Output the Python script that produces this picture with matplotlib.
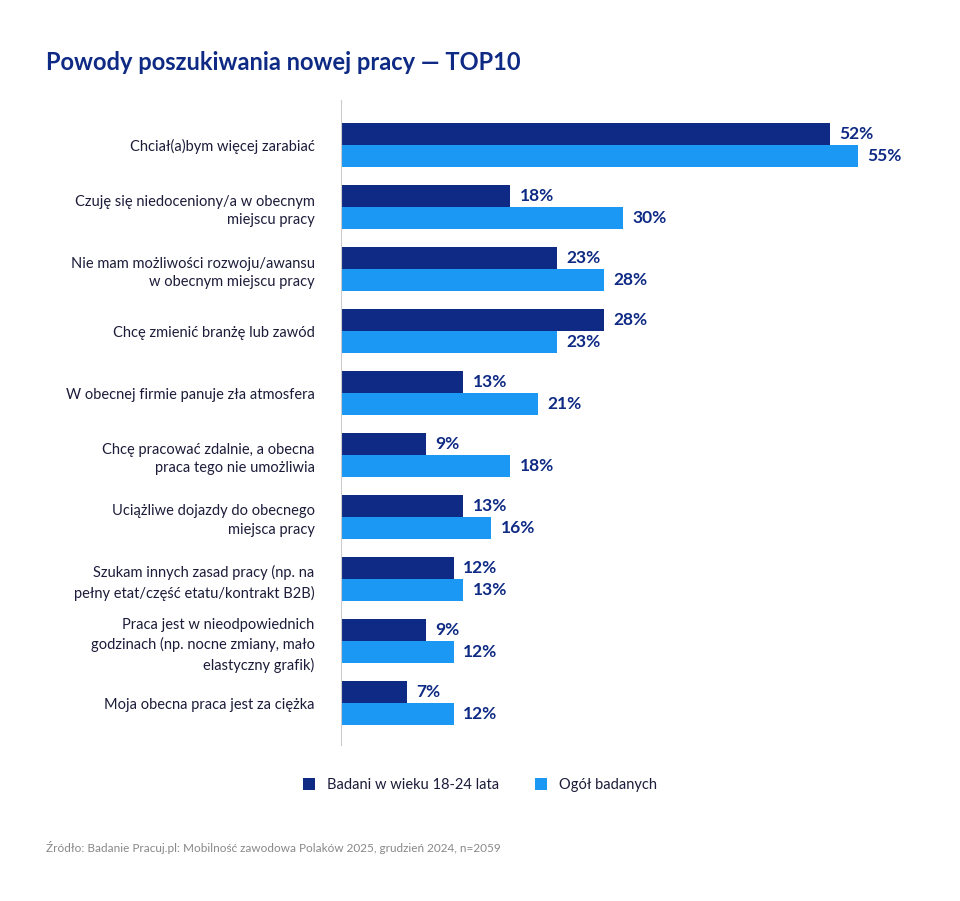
import matplotlib.pyplot as plt
import numpy as np

plt.rcParams['font.family'] = ['Lato', 'DejaVu Sans']

labels = [
    'Chciał(a)bym więcej zarabiać',
    'Czuję się niedoceniony/a w obecnym\nmiejscu pracy',
    'Nie mam możliwości rozwoju/awansu\nw obecnym miejscu pracy',
    'Chcę zmienić branżę lub zawód',
    'W obecnej firmie panuje zła atmosfera',
    'Chcę pracować zdalnie, a obecna\npraca tego nie umożliwia',
    'Uciążliwe dojazdy do obecnego\nmiejsca pracy',
    'Szukam innych zasad pracy (np. na\npełny etat/część etatu/kontrakt B2B)',
    'Praca jest w nieodpowiednich\ngodzinach (np. nocne zmiany, mało\nelastyczny grafik)',
    'Moja obecna praca jest za ciężka',
]
young = [52, 18, 23, 28, 13, 9, 13, 12, 9, 7]
total = [55, 30, 28, 23, 21, 18, 16, 13, 12, 12]

navy = '#0e2a84'
blue = '#1a98f4'

fig = plt.figure(figsize=(9.6, 9.01), dpi=100)
ax = fig.add_axes([341/960, 1-745/901, 579/960, 645/901])
y = np.arange(len(labels))
h = 22/62
ax.barh(y - h/2, young, height=h, color=navy, label='Badani w wieku 18-24 lata')
ax.barh(y + h/2, total, height=h, color=blue, label='Ogół badanych')
for i in range(len(labels)):
    ax.text(young[i] + 1.0, y[i] - h/2, f'{young[i]}%', va='center', ha='left',
            fontsize=12.5, fontweight='bold', color=navy)
    ax.text(total[i] + 1.0, y[i] + h/2, f'{total[i]}%', va='center', ha='left',
            fontsize=12.5, fontweight='bold', color=navy)
ax.set_xlim(0, 579/9.4)
ax.set_ylim(9 + 42/62, -45/62)
ax.set_yticks(y)
ax.set_yticklabels(labels, fontsize=10.5, color='#1c1c3a', linespacing=1.45)
ax.tick_params(axis='y', length=0, pad=19)
ax.set_xticks([])
for s in ['top', 'right', 'bottom']:
    ax.spines[s].set_visible(False)
ax.spines['left'].set_color('#cccccc')

fig.text(46/960, 1-62/901, 'Powody poszukiwania nowej pracy — TOP10', fontsize=17,
         fontweight='bold', color=navy, va='center')
fig.legend(loc='center', bbox_to_anchor=(480/960, 1-785/901), ncol=2, frameon=False,
           fontsize=10.5, handlelength=0.8, handleheight=0.8, columnspacing=2.5,
           labelcolor='#1c1c3a')
fig.text(46/960, 1-847/901,
         'Źródło: Badanie Pracuj.pl: Mobilność zawodowa Polaków 2025, grudzień 2024, n=2059',
         fontsize=8.5, color='#888888', va='center')
fig.savefig('out.png', dpi=100)
